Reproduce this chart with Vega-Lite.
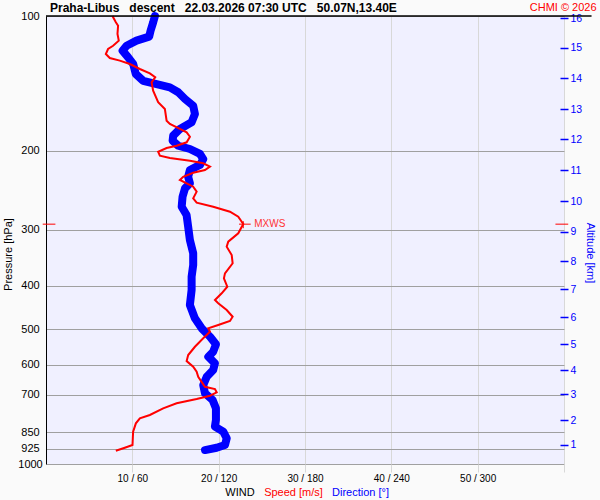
{
  "$schema": "https://vega.github.io/schema/vega-lite/v6.json",
  "width": 518,
  "height": 448,
  "autosize": {"type": "none"},
  "padding": {"left": 46, "top": 16, "right": 36, "bottom": 36},
  "background": "#fafafa",
  "config": {
    "font": "Liberation Sans",
    "view": {"fill": "#f0f0ff", "stroke": null},
    "axis": {"labelFont": "Liberation Sans", "titleFont": "Liberation Sans"}
  },
  "title": {
    "text": "Praha-Libus\u00a0\u00a0 descent\u00a0\u00a0 22.03.2026 07:30 UTC\u00a0\u00a0 50.07N,13.40E",
    "anchor": "start",
    "frame": "group",
    "dx": 4,
    "dy": 26,
    "offset": 4,
    "baseline": "alphabetic",
    "fontSize": 12,
    "fontWeight": "bold",
    "color": "#000000",
    "font": "Liberation Sans"
  },
  "datasets": {
    "direction": [
      {"p": 100, "d": 75.7}, {"p": 103.3, "d": 74.5}, {"p": 107.8, "d": 72.7}, {"p": 111.2, "d": 71.7},
      {"p": 113.5, "d": 62.9}, {"p": 116.5, "d": 56.0}, {"p": 119.5, "d": 53.2}, {"p": 123.7, "d": 57.1},
      {"p": 128.0, "d": 60.6}, {"p": 134.7, "d": 62.4}, {"p": 139.5, "d": 67.5}, {"p": 141.9, "d": 76.9},
      {"p": 144.3, "d": 86.1}, {"p": 148.0, "d": 91.9}, {"p": 153.2, "d": 96.6}, {"p": 158.6, "d": 102.3},
      {"p": 165.5, "d": 103.5}, {"p": 172.7, "d": 101.2}, {"p": 178.7, "d": 93.1}, {"p": 185.0, "d": 88.4},
      {"p": 189.8, "d": 88.0}, {"p": 194.8, "d": 91.9}, {"p": 198.1, "d": 100.0}, {"p": 203.2, "d": 107.0},
      {"p": 208.6, "d": 109.3}, {"p": 215.0, "d": 107.0}, {"p": 220.7, "d": 100.0}, {"p": 228.5, "d": 98.8},
      {"p": 236.3, "d": 100.0}, {"p": 242.5, "d": 96.6}, {"p": 253.2, "d": 94.9}, {"p": 266.6, "d": 94.3},
      {"p": 278.1, "d": 97.7}, {"p": 295.3, "d": 98.8}, {"p": 316.2, "d": 100.0}, {"p": 338.6, "d": 102.3},
      {"p": 359.6, "d": 102.3}, {"p": 381.9, "d": 101.2}, {"p": 408.9, "d": 101.2}, {"p": 441.6, "d": 100.0},
      {"p": 473.0, "d": 103.5}, {"p": 497.9, "d": 108.2}, {"p": 519.9, "d": 114.0}, {"p": 540.6, "d": 118.1},
      {"p": 561.5, "d": 116.2}, {"p": 576.1, "d": 112.8}, {"p": 596.0, "d": 117.4}, {"p": 617.0, "d": 116.2},
      {"p": 638.5, "d": 111.7}, {"p": 666.5, "d": 109.3}, {"p": 695.5, "d": 110.5}, {"p": 719.8, "d": 115.8},
      {"p": 751.2, "d": 118.1}, {"p": 797.5, "d": 118.1}, {"p": 825.4, "d": 117.4}, {"p": 847.0, "d": 123.2},
      {"p": 876.3, "d": 125.6}, {"p": 907.1, "d": 124.4}, {"p": 919.7, "d": 118.6}, {"p": 930.8, "d": 110.5}
    ],
    "speed": [
      {"p": 100, "s": 7.70}, {"p": 103.3, "s": 8.09}, {"p": 105.1, "s": 8.35}, {"p": 109.7, "s": 8.28},
      {"p": 113.5, "s": 8.43}, {"p": 116.5, "s": 7.77}, {"p": 118.5, "s": 7.19}, {"p": 121.6, "s": 6.93},
      {"p": 124.1, "s": 7.39}, {"p": 125.8, "s": 8.55}, {"p": 128.0, "s": 9.71}, {"p": 131.3, "s": 10.87},
      {"p": 134.3, "s": 12.03}, {"p": 137.0, "s": 12.65}, {"p": 140.6, "s": 12.23}, {"p": 146.8, "s": 12.41},
      {"p": 155.8, "s": 12.99}, {"p": 161.3, "s": 13.77}, {"p": 171.3, "s": 13.97}, {"p": 174.2, "s": 14.35},
      {"p": 178.7, "s": 15.51}, {"p": 181.8, "s": 16.29}, {"p": 186.0, "s": 16.67}, {"p": 191.4, "s": 16.29},
      {"p": 194.8, "s": 15.13}, {"p": 197.1, "s": 13.97}, {"p": 200.9, "s": 12.99}, {"p": 205.0, "s": 13.19},
      {"p": 207.5, "s": 14.35}, {"p": 210.4, "s": 16.67}, {"p": 213.2, "s": 18.21}, {"p": 216.9, "s": 18.99},
      {"p": 220.7, "s": 18.41}, {"p": 223.8, "s": 17.05}, {"p": 228.5, "s": 15.89}, {"p": 232.3, "s": 15.51},
      {"p": 236.3, "s": 16.29}, {"p": 240.4, "s": 17.05}, {"p": 246.7, "s": 17.45}, {"p": 255.3, "s": 17.05},
      {"p": 261.1, "s": 17.45}, {"p": 266.6, "s": 19.37}, {"p": 273.5, "s": 21.31}, {"p": 280.5, "s": 22.27},
      {"p": 291.2, "s": 22.85}, {"p": 305.5, "s": 22.27}, {"p": 319.0, "s": 21.11}, {"p": 327.3, "s": 20.93},
      {"p": 341.6, "s": 21.51}, {"p": 356.5, "s": 21.62}, {"p": 375.3, "s": 20.73}, {"p": 385.1, "s": 20.61},
      {"p": 402.1, "s": 21.0}, {"p": 415.9, "s": 20.35}, {"p": 430.5, "s": 19.57}, {"p": 437.8, "s": 19.95},
      {"p": 453.2, "s": 20.93}, {"p": 469.1, "s": 21.62}, {"p": 479.6, "s": 21.31}, {"p": 489.5, "s": 19.95},
      {"p": 497.9, "s": 18.79}, {"p": 506.7, "s": 18.99}, {"p": 524.2, "s": 18.21}, {"p": 547.4, "s": 17.25},
      {"p": 571.3, "s": 16.47}, {"p": 589.2, "s": 16.29}, {"p": 606.7, "s": 17.05}, {"p": 622.3, "s": 17.45},
      {"p": 638.5, "s": 17.63}, {"p": 672.3, "s": 18.41}, {"p": 680.2, "s": 19.57}, {"p": 691.8, "s": 19.77},
      {"p": 704.0, "s": 18.99}, {"p": 716.1, "s": 17.45}, {"p": 732.1, "s": 15.13}, {"p": 751.2, "s": 13.57},
      {"p": 777.4, "s": 12.03}, {"p": 790.7, "s": 10.87}, {"p": 811.3, "s": 10.41}, {"p": 847.0, "s": 10.09},
      {"p": 907.1, "s": 10.02}, {"p": 919.7, "s": 9.13}, {"p": 934.0, "s": 8.09}
    ],
    "mxwsMarks": [
      {"s1": 22.36, "s2": 23.71, "p1": 291.5, "p2": 291.5},
      {"s1": 22.85, "s2": 22.85, "p1": 287.1, "p2": 297.6},
      {"s1": -0.38, "s2": 1.09, "p1": 291.5, "p2": 291.5},
      {"s1": 59.01, "s2": 60.49, "p1": 291.5, "p2": 291.5}
    ],
    "mxwsLabel": [{"s": 22.85, "p": 291.5, "label": "MXWS"}],
    "header": [{"s1": 0, "s2": 63.19, "p": 100}],
    "credit": [{"s": 63.77, "p": 100, "label": "CHMI © 2026"}]
  },
  "layer": [
    {
      "data": {"name": "direction"},
      "mark": {"type": "line", "color": "#0000ff", "strokeWidth": 8, "strokeCap": "round", "strokeJoin": "round"},
      "encoding": {
        "x": {
          "field": "d", "type": "quantitative",
          "scale": {"domain": [0, 360], "nice": false, "zero": false},
          "axis": {
            "orient": "bottom", "labels": false, "ticks": false, "domain": false, "grid": false,
            "title": "Direction [°]", "titleColor": "#0000ff", "titleFontSize": 11, "titleFontWeight": "normal",
            "titleX": 314, "titleY": 31.3, "titleAlign": "center", "titleBaseline": "alphabetic"
          }
        },
        "y": {
          "field": "p", "type": "quantitative",
          "scale": {"type": "log", "domain": [100, 1000], "nice": false, "reverse": true},
          "axis": {
            "orient": "right",
            "values": [905.6, 798.8, 698.8, 617, 539.7, 469.8, 407.4, 352.3, 303, 258.8, 221.1, 188.5, 161.3, 137.7, 117.7, 101.2],
            "labelExpr": "'' + (indexof([905.6, 798.8, 698.8, 617, 539.7, 469.8, 407.4, 352.3, 303, 258.8, 221.1, 188.5, 161.3, 137.7, 117.7, 101.2], datum.value) + 1)",
            "offset": -4, "domain": false, "grid": false,
            "tickColor": "#0000ff", "tickSize": 8, "tickWidth": 1.5,
            "labelColor": "#0000ff", "labelFontSize": 10.5, "labelPadding": 2, "labelOverlap": false, "labelBaseline": "middle",
            "title": "Altitude [km]", "titleColor": "#0000ff", "titleFontSize": 11, "titleFontWeight": "normal",
            "titleAngle": 90, "titleX": 29, "titleY": 236.5, "titleAlign": "center", "titleBaseline": "middle"
          }
        },
        "order": {"field": "p", "type": "quantitative"}
      }
    },
    {
      "data": {"name": "speed"},
      "mark": {"type": "line", "color": "#ff0000", "strokeWidth": 2},
      "encoding": {
        "x": {
          "field": "s", "type": "quantitative",
          "scale": {"domain": [0, 60], "nice": false, "zero": false},
          "axis": {
            "orient": "bottom", "values": [10, 20, 30, 40, 50, 60],
            "labelExpr": "datum.value < 60 ? datum.value + ' / ' + datum.value * 6 : ''",
            "grid": true, "gridColor": "#d8d8d8", "gridWidth": 1,
            "ticks": true, "tickColor": "#d8d8d8", "tickSize": 8,
            "domain": false, "labelFontSize": 10, "labelColor": "#000000", "labelBaseline": "alphabetic",
            "labelPadding": 9.5, "labelFlush": false, "labelOverlap": false,
            "title": "Speed [m/s]", "titleColor": "#ff0000", "titleFontSize": 11, "titleFontWeight": "normal",
            "titleX": 247, "titleY": 31.3, "titleAlign": "center", "titleBaseline": "alphabetic"
          }
        },
        "y": {
          "field": "p", "type": "quantitative",
          "scale": {"type": "log", "domain": [100, 1000], "nice": false, "reverse": true},
          "axis": {
            "orient": "left", "values": [100, 200, 300, 400, 500, 600, 700, 850, 925, 1000],
            "format": "d",
            "grid": true, "gridColor": "#a0a0a0", "gridWidth": 1,
            "ticks": false, "domain": true, "domainColor": "#000000", "domainWidth": 1,
            "labelAlign": "center", "labelBaseline": "middle", "labelPadding": 16, "labelFontSize": 11,
            "labelColor": "#000000", "labelOverlap": false, "labelFlush": false,
            "title": "Pressure [hPa]", "titleColor": "#000000", "titleFontSize": 11, "titleFontWeight": "normal",
            "titleAngle": 270, "titleX": -38, "titleY": 238, "titleAlign": "center", "titleBaseline": "middle"
          }
        },
        "order": {"field": "p", "type": "quantitative"}
      }
    },
    {
      "data": {"name": "mxwsMarks"},
      "mark": {"type": "rule", "color": "#ff0000", "strokeWidth": 1},
      "encoding": {
        "x": {"field": "s1", "type": "quantitative", "scale": {"domain": [0, 60], "nice": false, "zero": false}, "axis": null},
        "x2": {"field": "s2"},
        "y": {"field": "p1", "type": "quantitative", "scale": {"type": "log", "domain": [100, 1000], "nice": false, "reverse": true}, "axis": null},
        "y2": {"field": "p2"}
      }
    },
    {
      "data": {"name": "mxwsLabel"},
      "mark": {"type": "text", "color": "#ff3333", "fontSize": 10, "align": "left", "baseline": "middle", "dx": 11},
      "encoding": {
        "x": {"field": "s", "type": "quantitative", "scale": {"domain": [0, 60], "nice": false, "zero": false}, "axis": null},
        "y": {"field": "p", "type": "quantitative", "scale": {"type": "log", "domain": [100, 1000], "nice": false, "reverse": true}, "axis": null},
        "text": {"field": "label"}
      }
    },
    {
      "data": {"name": "header"},
      "mark": {"type": "rule", "color": "#000000", "strokeWidth": 1.5},
      "encoding": {
        "x": {
          "field": "s1", "type": "quantitative", "scale": {"domain": [0, 60], "nice": false, "zero": false},
          "axis": {
            "orient": "bottom", "labels": false, "ticks": false, "domain": false, "grid": false,
            "title": "WIND", "titleColor": "#000000", "titleFontSize": 11, "titleFontWeight": "normal",
            "titleX": 193.5, "titleY": 31.3, "titleAlign": "center", "titleBaseline": "alphabetic"
          }
        },
        "x2": {"field": "s2"},
        "y": {"field": "p", "type": "quantitative", "scale": {"type": "log", "domain": [100, 1000], "nice": false, "reverse": true}, "axis": null}
      }
    },
    {
      "data": {"name": "credit"},
      "mark": {"type": "text", "color": "#ff0000", "fontSize": 11, "align": "right", "baseline": "alphabetic", "dy": -5},
      "encoding": {
        "x": {"field": "s", "type": "quantitative", "scale": {"domain": [0, 60], "nice": false, "zero": false}, "axis": null},
        "y": {"field": "p", "type": "quantitative", "scale": {"type": "log", "domain": [100, 1000], "nice": false, "reverse": true}, "axis": null},
        "text": {"field": "label"}
      }
    }
  ],
  "resolve": {"scale": {"x": "independent", "y": "independent"}, "axis": {"x": "independent", "y": "independent"}}
}
